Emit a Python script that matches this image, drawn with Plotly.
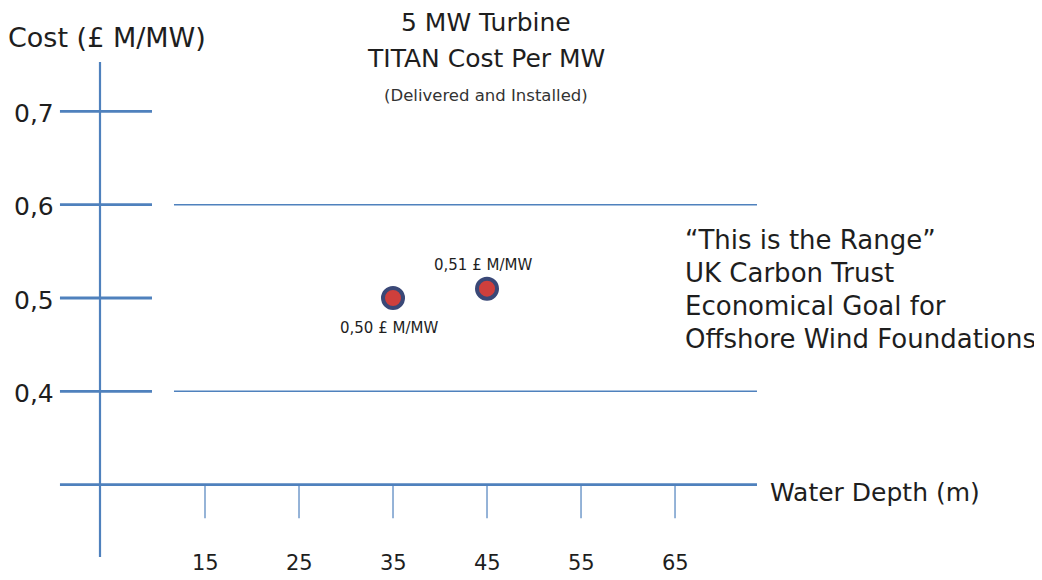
import plotly.graph_objects as go

# Data
depth_ticks = [15, 25, 35, 45, 55, 65]
depth_tick_labels = ["15", "25", "35", "45", "55", "65"]
cost_ticks = [0.7, 0.6, 0.5, 0.4]
cost_tick_labels = ["0,7", "0,6", "0,5", "0,4"]
range_lines = [0.6, 0.4]
point_depth = [35, 45]
point_cost = [0.50, 0.51]
point_labels = ["0,50 £ M/MW", "0,51 £ M/MW"]

W, H = 1042, 580
OFF = 8  # page body margin offset
FONT = "DejaVu Sans"
AX = "#4f81bd"
TXT = "#1e1e1e"

# axis ranges chosen so the drawing matches the slide geometry
x_range = [-5.957, 104.89]
y_range = [0.1892, 0.8108]
axis_x = 3.83      # depth at which the vertical axis is drawn
base_y = 0.3       # cost at which the horizontal axis is drawn

fig = go.Figure()

shapes = []
# vertical axis
shapes.append(dict(type="line", xref="x", yref="y", x0=axis_x, x1=axis_x,
                   y0=0.2224, y1=0.753, line=dict(color=AX, width=2.2)))
# horizontal axis
shapes.append(dict(type="line", xref="x", yref="y", x0=-0.43, x1=73.72,
                   y0=base_y, y1=base_y, line=dict(color=AX, width=2.8)))
# short y ticks
for v in cost_ticks:
    shapes.append(dict(type="line", xref="x", yref="y", x0=-0.43, x1=9.36,
                       y0=v, y1=v, line=dict(color=AX, width=2.8)))
# long range lines
for v in range_lines:
    shapes.append(dict(type="line", xref="x", yref="y", x0=11.7, x1=73.72,
                       y0=v, y1=v, line=dict(color=AX, width=1.5)))
# x ticks
for d in depth_ticks:
    shapes.append(dict(type="line", xref="x", yref="y", x0=d, x1=d,
                       y0=base_y, y1=0.264, line=dict(color=AX, width=1.2)))

fig.add_trace(go.Scatter(
    x=point_depth, y=point_cost, mode="markers",
    marker=dict(size=20, color="#cf3f3c", line=dict(color="#3a4877", width=4)),
    hoverinfo="skip", showlegend=False))

ann = []
for v, t in zip(cost_ticks, cost_tick_labels):
    ann.append(dict(x=-0.9, y=v, xref="x", yref="y", text=t, showarrow=False,
                    xanchor="right", yanchor="middle", yshift=-2,
                    font=dict(size=25, color=TXT, family=FONT)))
for d, t in zip(depth_ticks, depth_tick_labels):
    ann.append(dict(x=d, y=0.216, xref="x", yref="y", text=t, showarrow=False,
                    xanchor="center", yanchor="middle",
                    font=dict(size=21, color=TXT, family=FONT)))
# point labels
ann.append(dict(x=point_depth[0], y=point_cost[0], xref="x", yref="y",
                text=point_labels[0], showarrow=False, xanchor="center",
                yanchor="middle", xshift=-4, yshift=-30,
                font=dict(size=15, color=TXT, family=FONT)))
ann.append(dict(x=point_depth[1], y=point_cost[1], xref="x", yref="y",
                text=point_labels[1], showarrow=False, xanchor="center",
                yanchor="middle", xshift=-4, yshift=24,
                font=dict(size=15, color=TXT, family=FONT)))


def px(x):
    return (x - OFF) / W


def py(y):
    return 1 - (y - OFF) / H


ann.append(dict(x=px(6), y=py(37), xref="paper", yref="paper",
                text="Cost (£ M/MW)", showarrow=False, xanchor="left",
                yanchor="middle", font=dict(size=27, color=TXT, family=FONT)))
ann.append(dict(x=px(486), y=py(22), xref="paper", yref="paper",
                text="5 MW Turbine", showarrow=False, xanchor="center",
                yanchor="middle", font=dict(size=25, color=TXT, family=FONT)))
ann.append(dict(x=px(486), y=py(58), xref="paper", yref="paper",
                text="TITAN Cost Per MW", showarrow=False, xanchor="center",
                yanchor="middle", font=dict(size=25, color=TXT, family=FONT)))
ann.append(dict(x=px(486), y=py(95), xref="paper", yref="paper",
                text="(Delivered and Installed)", showarrow=False, xanchor="center",
                yanchor="middle", font=dict(size=16.5, color="#333", family=FONT)))
for i, t in enumerate(["\u201cThis is the Range\u201d", "UK Carbon Trust",
                       "Economical Goal for", "Offshore Wind Foundations"]):
    ann.append(dict(x=px(683), y=py(240 + 33 * i), xref="paper", yref="paper",
                    text=t, showarrow=False, xanchor="left", yanchor="middle",
                    font=dict(size=26, color=TXT, family=FONT)))
ann.append(dict(x=px(768), y=py(492), xref="paper", yref="paper",
                text="Water Depth (m)", showarrow=False, xanchor="left",
                yanchor="middle", font=dict(size=25, color=TXT, family=FONT)))

fig.update_layout(
    width=W, height=H,
    margin=dict(l=0, r=0, t=0, b=0),
    paper_bgcolor="white", plot_bgcolor="white",
    xaxis=dict(range=x_range, visible=False, fixedrange=True),
    yaxis=dict(range=y_range, visible=False, fixedrange=True),
    shapes=shapes, annotations=ann, showlegend=False,
)

fig.write_html("out.html")
